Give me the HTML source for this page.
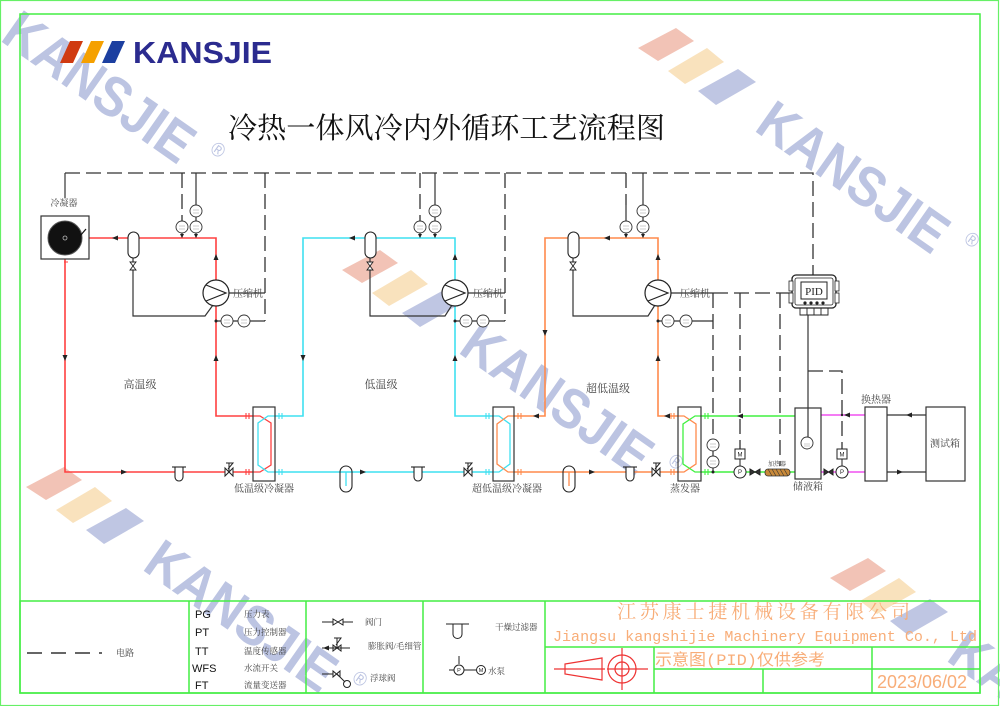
<!DOCTYPE html>
<html><head><meta charset="utf-8"><style>
html,body{margin:0;padding:0;background:#fff;width:1000px;height:706px;overflow:hidden;}
svg{display:block;overflow:hidden;}
.lbl{font-family:"Liberation Serif","Noto Serif CJK SC",serif;fill:#444;}
.wm{font-family:"Liberation Sans",sans-serif;font-weight:bold;fill:#bcc4e2;}
.wr{font-family:"Liberation Sans",sans-serif;fill:#bcc4e2;}
</style></head><body>
<svg width="1000" height="706" viewBox="0 0 1000 706" xmlns="http://www.w3.org/2000/svg">
<clipPath id="pg"><rect x="0" y="0" width="1000" height="706"/></clipPath>
<rect width="1000" height="706" fill="#fff"/>

<!-- watermarks -->
<g clip-path="url(#pg)">
<g transform="translate(-116,-42)">
 <polygon points="0,0 38,-20 56,-7 20,13" fill="#f2c3b6"/><polygon points="30,23 69,0 86,14 47,36" fill="#f9e2bd"/><polygon points="60,43 100,21 118,34 78,57" fill="#bfc6e3"/>
 <g transform="translate(115,82) rotate(35) scale(0.9,1)"><text class="wm" x="0" y="0" font-size="56">KANSJIE</text><text class="wr" x="262" y="-29" font-size="20">®</text></g>
</g>
<g transform="translate(638,48)">
 <polygon points="0,0 38,-20 56,-7 20,13" fill="#f2c3b6"/><polygon points="30,23 69,0 86,14 47,36" fill="#f9e2bd"/><polygon points="60,43 100,21 118,34 78,57" fill="#bfc6e3"/>
 <g transform="translate(115,82) rotate(35) scale(0.9,1)"><text class="wm" x="0" y="0" font-size="56">KANSJIE</text><text class="wr" x="262" y="-29" font-size="20">®</text></g>
</g>
<g transform="translate(342,270)">
 <polygon points="0,0 38,-20 56,-7 20,13" fill="#f2c3b6"/><polygon points="30,23 69,0 86,14 47,36" fill="#f9e2bd"/><polygon points="60,43 100,21 118,34 78,57" fill="#bfc6e3"/>
 <g transform="translate(115,82) rotate(35) scale(0.9,1)"><text class="wm" x="0" y="0" font-size="56">KANSJIE</text><text class="wr" x="262" y="-29" font-size="20">®</text></g>
</g>
<g transform="translate(26,487)">
 <polygon points="0,0 38,-20 56,-7 20,13" fill="#f2c3b6"/><polygon points="30,23 69,0 86,14 47,36" fill="#f9e2bd"/><polygon points="60,43 100,21 118,34 78,57" fill="#bfc6e3"/>
 <g transform="translate(115,82) rotate(35) scale(0.9,1)"><text class="wm" x="0" y="0" font-size="56">KANSJIE</text><text class="wr" x="262" y="-29" font-size="20">®</text></g>
</g>
<g transform="translate(830,578)">
 <polygon points="0,0 38,-20 56,-7 20,13" fill="#f2c3b6"/><polygon points="30,23 69,0 86,14 47,36" fill="#f9e2bd"/><polygon points="60,43 100,21 118,34 78,57" fill="#bfc6e3"/>
 <g transform="translate(115,82) rotate(35) scale(0.9,1)"><text class="wm" x="0" y="0" font-size="56">KANSJIE</text></g>
</g>
</g>

<!-- frames -->
<rect x="0.5" y="0.5" width="998" height="705" fill="none" stroke="#66f066" stroke-width="1.2"/>
<rect x="20" y="14" width="960" height="679" fill="none" stroke="#44ee44" stroke-width="1.5"/>

<!-- logo -->
<polygon points="60,63 70,41 83,41 73,63" fill="#d03a10"/>
<polygon points="81,63 91,41 104,41 94,63" fill="#f5a000"/>
<polygon points="102,63 112,41 125,41 115,63" fill="#1c3fa0"/>
<text x="133" y="63" font-family="Liberation Sans,sans-serif" font-weight="bold" font-size="31" fill="#2b2b8f" textLength="139" lengthAdjust="spacingAndGlyphs">KANSJIE</text>

<!-- title -->
<text x="228" y="138" font-family="Liberation Serif,'Noto Serif CJK SC',serif" font-size="29" fill="#111" textLength="437" lengthAdjust="spacingAndGlyphs">冷热一体风冷内外循环工艺流程图</text>

<!-- ========== electrical dashed lines ========== -->
<g fill="none" stroke="#333" stroke-width="1.3" stroke-dasharray="15,6">
 <path d="M65,173 H813 V275"/>
 <path d="M182,173 V221"/>
 <path d="M265,173 V321"/>
 <path d="M420,173 V221"/>
 <path d="M505,173 V321"/>
 <path d="M626,173 V205"/>
 <path d="M713,293 H792"/>
 <path d="M713,293 V439"/>
 <path d="M740,293 V449"/>
 <path d="M780,293 V466"/>
 <path d="M808,371 H842 V449"/>
</g>
<g fill="none" stroke="#333" stroke-width="1.2">
 <path d="M65,173 V198"/>
 <path d="M196,173 V205 M196,217 V221 M182,233 V238 M196,233 V238"/>
 <path d="M435,173 V205 M435,217 V221 M420,233 V238 M435,233 V238"/>
 <path d="M643,173 V205 M643,217 V221 M626,205 V221 M626,233 V238 M643,233 V238"/>
 <path d="M229,293 H265 M216,321 H265"/>
 <path d="M468,293 H505 M455,321 H505"/>
 <path d="M671,293 H713 M658,321 H713"/>
 <path d="M713,451 V456 M713,468 V472"/>
 <path d="M808,315 V437"/>
 <path d="M133,258 V316 H205 L213,305"/>
 <path d="M370,258 V316 H445 L452,305"/>
 <path d="M573,258 V316 H648 L655,305"/>
 <path d="M887,415 H926 M887,472 H926"/>
</g>

<!-- ========== pipes ========== -->
<g fill="none" stroke-width="1.6">
 <path stroke="#ff4040" d="M89,238 H216 V280 M216,306 V416 H253 M65,259 V472 H253"/>
 <path stroke="#ff4040" stroke-width="1.3" d="M253,416 H260 L271,423 V465 L260,472 H253"/>
 <path stroke="#3fe0f0" d="M275,416 H303 V238 H455 V280 M455,306 V416 H493 M275,472 H493"/>
 <path stroke="#3fe0f0" stroke-width="1.3" d="M275,416 H268 L258,423 V465 L268,472 H275"/>
 <path stroke="#3fe0f0" stroke-width="1.3" d="M493,416 H499 L510,424 V464 L499,472 H493"/>
 <path stroke="#3fe0f0" stroke-width="1.3" d="M346,472 V486"/>
 <path stroke="#ff8a4c" d="M514,416 H545 V238 H658 V280 M658,306 V416 H678 M514,472 H678"/>
 <path stroke="#ff8a4c" stroke-width="1.3" d="M514,416 H508 L497,424 V464 L508,472 H514"/>
 <path stroke="#ff8a4c" stroke-width="1.3" d="M678,416 H684 L696,424 V464 L684,472 H678"/>
 <path stroke="#ff8a4c" stroke-width="1.3" d="M569,472 V486"/>
 <path stroke="#40f040" d="M701,416 H795 M701,472 H795"/>
 <path stroke="#40f040" stroke-width="1.3" d="M701,416 H695 L683,424 V464 L695,472 H701"/>
 <path stroke="#f050f0" d="M821,415 H865 M821,472 H865"/>
</g>

<!-- flanges -->
<g stroke-width="1.1">
 <path stroke="#ff4040" d="M246,413 V419 M249,413 V419 M246,469 V475 M249,469 V475 M64,262 H68"/>
 <path stroke="#3fe0f0" d="M279,413 V419 M282,413 V419 M279,469 V475 M282,469 V475 M486,413 V419 M489,413 V419 M486,469 V475 M489,469 V475"/>
 <path stroke="#ff8a4c" d="M518,413 V419 M521,413 V419 M518,469 V475 M521,469 V475 M671,413 V419 M674,413 V419 M671,469 V475 M674,469 V475"/>
 <path stroke="#40f040" d="M705,413 V419 M708,413 V419 M705,469 V475 M708,469 V475"/>
</g>

<!-- boxes -->
<g fill="none" stroke="#333" stroke-width="1.2">
 <rect x="41" y="216" width="48" height="43"/>
 <rect x="253" y="407" width="22" height="74"/>
 <rect x="493" y="407" width="21" height="74"/>
 <rect x="678" y="407" width="23" height="74"/>
 <rect x="795" y="408" width="26" height="71"/>
 <rect x="865" y="407" width="22" height="74"/>
 <rect x="926" y="407" width="39" height="74"/>
</g>

<!-- condenser fan -->
<circle cx="65" cy="238" r="17" fill="#111" stroke="#555" stroke-width="1"/>
<circle cx="65" cy="238" r="2" fill="none" stroke="#bbb" stroke-width="0.8"/>
<path d="M80,236 L86,229" stroke="#111" stroke-width="1.2"/>

<!-- receivers -->
<g fill="#fff" stroke="#222" stroke-width="1.1">
 <rect x="128" y="232" width="11" height="26" rx="5.5"/>
 <rect x="365" y="232" width="11" height="26" rx="5.5"/>
 <rect x="568" y="232" width="11" height="26" rx="5.5"/>
 <rect x="340" y="466" width="12" height="26" rx="6" fill="none"/>
 <rect x="563" y="466" width="12" height="26" rx="6" fill="none"/>
</g>
<g fill="#fff" stroke="#222" stroke-width="0.9">
 <path d="M130,262 L136,262 L130,270 L136,270 Z"/>
 <path d="M367,262 L373,262 L367,270 L373,270 Z"/>
 <path d="M570,262 L576,262 L570,270 L576,270 Z"/>
</g>

<!-- compressors -->
<g fill="#fff" stroke="#222" stroke-width="1.2">
 <circle cx="216" cy="293" r="13"/><path d="M206,285 L226,293 L206,301" fill="none"/>
 <circle cx="455" cy="293" r="13"/><path d="M445,285 L465,293 L445,301" fill="none"/>
 <circle cx="658" cy="293" r="13"/><path d="M648,285 L668,293 L648,301" fill="none"/>
</g>

<!-- gauges -->
<g fill="#fff" stroke="#333" stroke-width="0.9">
 <circle cx="182" cy="227" r="6"/><circle cx="196" cy="227" r="6"/><circle cx="196" cy="211" r="6"/>
 <circle cx="420" cy="227" r="6"/><circle cx="435" cy="227" r="6"/><circle cx="435" cy="211" r="6"/>
 <circle cx="626" cy="227" r="6"/><circle cx="643" cy="227" r="6"/><circle cx="643" cy="211" r="6"/>
 <circle cx="227" cy="321" r="6"/><circle cx="244" cy="321" r="6"/>
 <circle cx="466" cy="321" r="6"/><circle cx="483" cy="321" r="6"/>
 <circle cx="668" cy="321" r="6"/><circle cx="686" cy="321" r="6"/>
 <circle cx="713" cy="445" r="6"/><circle cx="713" cy="462" r="6"/>
 <circle cx="807" cy="443" r="6"/>
</g>
<g stroke="#999" stroke-width="0.6">
 <path d="M179,226 H185 M179,229 H185 M193,226 H199 M193,229 H199 M193,210 H199 M193,213 H199"/>
 <path d="M417,226 H423 M417,229 H423 M432,226 H438 M432,229 H438 M432,210 H438 M432,213 H438"/>
 <path d="M623,226 H629 M623,229 H629 M640,226 H646 M640,229 H646 M640,210 H646 M640,213 H646"/>
 <path d="M224,320 H230 M224,323 H230 M241,320 H247 M241,323 H247 M463,320 H469 M463,323 H469 M480,320 H486 M480,323 H486"/>
 <path d="M665,320 H671 M665,323 H671 M683,320 H689 M683,323 H689 M710,444 H716 M710,447 H716 M710,461 H716 M710,464 H716 M804,444 H810 M804,446 H810"/>
</g>

<!-- arrows -->
<g fill="#222">
 <polygon points="112,238 118,235.5 118,240.5"/>
 <polygon points="349,238 355,235.5 355,240.5"/>
 <polygon points="604,238 610,235.5 610,240.5"/>
 <polygon points="216,254 213.5,260 218.5,260"/>
 <polygon points="216,355 213.5,361 218.5,361"/>
 <polygon points="455,254 452.5,260 457.5,260"/>
 <polygon points="455,355 452.5,361 457.5,361"/>
 <polygon points="658,254 655.5,260 660.5,260"/>
 <polygon points="658,355 655.5,361 660.5,361"/>
 <polygon points="65,361 62.5,355 67.5,355"/>
 <polygon points="303,361 300.5,355 305.5,355"/>
 <polygon points="545,336 542.5,330 547.5,330"/>
 <polygon points="127,472 121,469.5 121,474.5"/>
 <polygon points="366,472 360,469.5 360,474.5"/>
 <polygon points="595,472 589,469.5 589,474.5"/>
 <polygon points="533,416 539,413.5 539,418.5"/>
 <polygon points="664,416 670,413.5 670,418.5"/>
 <polygon points="737,416 743,413.5 743,418.5"/>
 <polygon points="844,415 850,412.5 850,417.5"/>
 <polygon points="906,415 912,412.5 912,417.5"/>
 <polygon points="903,472 897,469.5 897,474.5"/>
 <circle cx="216" cy="321" r="1.5"/><circle cx="455" cy="321" r="1.5"/><circle cx="658" cy="321" r="1.5"/>
 <circle cx="713" cy="472" r="1.5"/><circle cx="842" cy="415" r="1.2"/>
 <polygon points="182,238 180,234 184,234"/><polygon points="196,238 194,234 198,234"/>
 <polygon points="420,238 418,234 422,234"/><polygon points="435,238 433,234 437,234"/>
 <polygon points="626,238 624,234 628,234"/><polygon points="643,238 641,234 645,234"/>
</g>

<!-- filters -->
<g fill="#fff" stroke="#222" stroke-width="1.1">
 <path d="M175,467 V477 A4,4 0 0 0 183,477 V467"/><path d="M172,467 H186"/>
 <path d="M414,467 V477 A4,4 0 0 0 422,477 V467"/><path d="M411,467 H425"/>
 <path d="M626,467 V477 A4,4 0 0 0 634,477 V467"/><path d="M623,467 H637"/>
</g>
<!-- expansion valves -->
<g fill="#fff" stroke="#222" stroke-width="1">
 <path d="M225,468 L225,476 L233,468 L233,476 Z"/><path d="M229,472 V463 M226,463 H233 L228,469" fill="none"/>
 <path d="M464,468 L464,476 L472,468 L472,476 Z"/><path d="M468,472 V463 M465,463 H472 L467,469" fill="none"/>
 <path d="M652,468 L652,476 L660,468 L660,476 Z"/><path d="M656,472 V463 M653,463 H660 L655,469" fill="none"/>
</g>

<!-- pumps / M / valves / heater -->
<g fill="#fff" stroke="#222" stroke-width="1">
 <circle cx="740" cy="472" r="6"/><rect x="735" y="449" width="10" height="10"/>
 <circle cx="842" cy="472" r="6"/><rect x="837" y="449" width="10" height="10"/>
 <path d="M750,469 L750,475 L760,469 L760,475 Z" fill="#333"/>
 <path d="M824,469 L824,475 L833,469 L833,475 Z" fill="#333"/>
 <path d="M740,459 V466 M842,459 V466"/>
</g>
<g font-family="Liberation Sans,sans-serif" font-size="6" fill="#222" text-anchor="middle">
 <text x="740" y="474">P</text><text x="740" y="456.5">M</text>
 <text x="842" y="474">P</text><text x="842" y="456.5">M</text>
</g>
<rect x="765" y="469" width="25" height="7" rx="3" fill="#c98a3a" stroke="#333" stroke-width="0.8"/>
<path d="M768,469 L772,476 M772,469 L776,476 M776,469 L780,476 M780,469 L784,476 M784,469 L788,476" stroke="#333" stroke-width="0.6"/>
<text x="777" y="466" class="lbl" font-size="6" text-anchor="middle">加热器</text>

<!-- PID controller -->
<rect x="792" y="275" width="44" height="33" rx="4" fill="#fff" stroke="#222" stroke-width="1.3"/>
<rect x="795" y="278" width="38" height="27" rx="2" fill="none" stroke="#222" stroke-width="0.8"/>
<rect x="789" y="281" width="4" height="10" fill="#fff" stroke="#222" stroke-width="0.8"/>
<rect x="789" y="293" width="4" height="10" fill="#fff" stroke="#222" stroke-width="0.8"/>
<rect x="835" y="281" width="4" height="10" fill="#fff" stroke="#222" stroke-width="0.8"/>
<rect x="835" y="293" width="4" height="10" fill="#fff" stroke="#222" stroke-width="0.8"/>
<rect x="801" y="282" width="26" height="17" fill="#fff" stroke="#222" stroke-width="1"/>
<text x="814" y="295" font-family="Liberation Serif,serif" font-size="11" fill="#222" text-anchor="middle">PID</text>
<g fill="#222"><circle cx="805" cy="303" r="1.6"/><circle cx="811" cy="303" r="1.6"/><circle cx="817" cy="303" r="1.6"/><circle cx="823" cy="303" r="1.6"/></g>
<path d="M800,308 V315 H828 V308 M807,308 V315 M814,308 V315 M821,308 V315" fill="none" stroke="#222" stroke-width="0.9"/>

<!-- labels -->
<g class="lbl">
 <text x="64" y="206" font-size="9" text-anchor="middle">冷凝器</text>
 <text x="233" y="297" font-size="10">压缩机</text>
 <text x="473" y="297" font-size="10">压缩机</text>
 <text x="680" y="297" font-size="10">压缩机</text>
 <text x="140" y="388" font-size="11" text-anchor="middle">高温级</text>
 <text x="381" y="388" font-size="11" text-anchor="middle">低温级</text>
 <text x="608" y="392" font-size="11" text-anchor="middle">超低温级</text>
 <text x="264" y="492" font-size="10" text-anchor="middle">低温级冷凝器</text>
 <text x="507" y="492" font-size="10" text-anchor="middle">超低温级冷凝器</text>
 <text x="685" y="492" font-size="10" text-anchor="middle">蒸发器</text>
 <text x="808" y="490" font-size="10" text-anchor="middle">储液箱</text>
 <text x="876" y="403" font-size="10" text-anchor="middle">换热器</text>
 <text x="945" y="447" font-size="10" text-anchor="middle">测试箱</text>
</g>

<!-- ========== legend ========== -->
<g fill="none" stroke="#44ee44" stroke-width="1.5">
 <rect x="20" y="601" width="960" height="92"/>
 <path d="M189,601 V693 M306,601 V693 M423,601 V693 M545,601 V693"/>
 <path d="M545,647 H980 M654,669 H980 M654,647 V693 M763,669 V693 M872,647 V693"/>
</g>
<path d="M27,653 H102" stroke="#333" stroke-width="1.5" stroke-dasharray="15,9"/>
<text x="116" y="656" class="lbl" font-size="9">电路</text>
<g font-family="Liberation Sans,sans-serif" font-size="11" fill="#111">
 <text x="195" y="618">PG</text><text x="195" y="636">PT</text><text x="195" y="655">TT</text><text x="192" y="672">WFS</text><text x="195" y="689">FT</text>
</g>
<g class="lbl" font-size="8.5">
 <text x="244" y="617">压力表</text><text x="244" y="635">压力控制器</text><text x="244" y="654">温度传感器</text><text x="244" y="671">水流开关</text><text x="244" y="688">流量变送器</text>
 <text x="365" y="625">阀门</text><text x="368" y="649">膨胀阀/毛细管</text><text x="370" y="681">浮球阀</text>
 <text x="495" y="630">干燥过滤器</text><text x="488" y="674">水泵</text>
</g>
<g fill="none" stroke="#222" stroke-width="1">
 <path d="M322,622 H333 M343,622 H353"/>
 <path d="M333,619 L333,625 L343,619 L343,625 Z" fill="#fff"/>
 <path d="M322,648 H350 M333,645 L333,651 L341,645 L341,651 Z M337,648 V638 M334,638 H341 L336,645"/>
 <path d="M322,674 H333 M333,671 L333,677 L340,671 L340,677 Z M337,674 L345,682"/>
 <circle cx="347" cy="684" r="3.5"/>
 <path d="M446,624 H469 M453,624 V634 A4.5,4.5 0 0 0 462,634 V624"/>
 <path d="M449,670 H454 M464,670 H476 M459,656 V664"/>
 <circle cx="459" cy="670" r="5" fill="#fff"/><circle cx="481" cy="670" r="4.5" fill="#fff"/>
</g>
<polygon points="323,648 329,645.5 329,650.5" fill="#222"/>
<g font-family="Liberation Sans,sans-serif" font-size="5.5" fill="#222" text-anchor="middle"><text x="459" y="672">P</text><text x="481" y="672">M</text></g>

<!-- title block -->
<text x="617" y="618" font-family="Liberation Serif,'Noto Serif CJK SC',serif" font-size="19" fill="#f8ad78" textLength="293" lengthAdjust="spacing">江苏康士捷机械设备有限公司</text>
<text x="553" y="641" font-family="Liberation Mono,monospace" font-size="15" fill="#f8ad78" textLength="424" lengthAdjust="spacingAndGlyphs">Jiangsu kangshijie Machinery Equipment Co., Ltd</text>
<text x="655" y="665" font-family="Liberation Mono,'Noto Sans CJK SC',monospace" font-size="16" fill="#f8ad78" textLength="170" lengthAdjust="spacingAndGlyphs">示意图(PID)仅供参考</text>
<text x="877" y="688" font-family="Liberation Sans,sans-serif" font-size="18" fill="#f8ad78" textLength="90" lengthAdjust="spacingAndGlyphs">2023/06/02</text>

<!-- projection symbol -->
<g fill="none" stroke="#ee3333" stroke-width="1.2">
 <path d="M554,669 H605"/>
 <path d="M565,664 L602,658 L602,680 L565,674 Z"/>
 <circle cx="622" cy="669" r="14"/><circle cx="622" cy="669" r="7"/>
 <path d="M622,648 V690 M607,669 H648"/>
</g>
</svg>
</body></html>
